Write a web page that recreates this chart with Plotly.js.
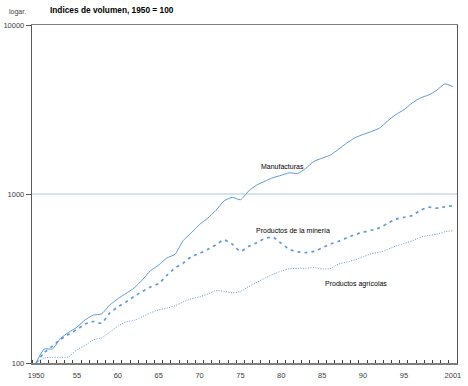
<!DOCTYPE html>
<html>
<head>
<meta charset="utf-8">
<script src="https://cdn.plot.ly/plotly-3.0.1.min.js"></script>
<style>html,body{margin:0;padding:0;background:#fff;}#chart{width:468px;height:386px;}</style>
</head>
<body>
<div id="chart"></div>
<script>
const years = [];
for (let y = 1950; y <= 2001; y++) years.push(y);

const manufacturas = [100,121,121,140,152,163,180,192,195,220,240,258,278,310,352,380,418,440,530,590,660,720,800,910,955,925,1040,1130,1190,1250,1290,1335,1320,1420,1560,1630,1700,1840,2000,2150,2250,2340,2450,2700,2950,3150,3450,3700,3850,4100,4480,4320];
const mineria = [100,115,126,138,148,158,170,176,172,197,215,230,248,265,282,295,330,365,390,425,445,470,500,535,505,458,490,515,545,555,510,470,455,450,458,480,505,525,550,575,595,610,630,670,710,728,745,800,835,825,840,852];
const agricolas = [100,107,108,108,109,120,127,137,141,152,165,175,179,188,198,206,211,218,230,240,246,256,268,266,260,265,283,300,318,335,350,361,363,363,368,360,362,385,395,408,425,443,452,470,492,510,528,555,568,578,598,607];

const tickYears = [1950,1955,1960,1965,1970,1975,1980,1985,1990,1995,2001];
const tickLabels = ['1950','55','60','65','70','75','80','85','90','95','2001'];
const yTicks = [100,1000,10000];
const yTickLabels = ['100','1000','10000'];

const seriesNames = ['Manufacturas','Productos de la minería','Productos agrícolas'];

const lineColor = '#5B9BD5';
const traces = [
  {x: years, y: manufacturas, name: seriesNames[0], mode: 'lines',
   line: {color: lineColor, width: 1, shape: 'spline', smoothing: 0.6}},
  {x: years, y: mineria, name: seriesNames[1], mode: 'lines',
   line: {color: '#5f9cd6', width: 1.7, dash: '3px,4px', shape: 'spline', smoothing: 0.6}},
  {x: years, y: agricolas, name: seriesNames[2], mode: 'lines',
   line: {color: '#5f9cd6', width: 1, dash: '1px,1.5px', shape: 'spline', smoothing: 0.6}}
];

const fnt = '"Liberation Sans", Arial, sans-serif';
const layout = {
  width: 468, height: 386,
  margin: {l: 32, r: 11, t: 25, b: 23, pad: 0},
  paper_bgcolor: '#fff', plot_bgcolor: '#fff',
  showlegend: false,
  font: {family: fnt, size: 7.5, color: '#404040'},
  xaxis: {
    type: 'linear', range: [1949.5, 2001.5],
    tickvals: tickYears, ticktext: tickLabels, ticks: '',
    ticklabelstandoff: 4,
    showgrid: false, zeroline: false,
    showline: true, linecolor: '#7f7f7f', linewidth: 1.5, mirror: true,
    minor: {ticks: 'inside', tick0: 1949.5, dtick: 1, ticklen: 3, tickcolor: '#404040', showgrid: false},
    tickfont: {family: fnt, size: 7.5, color: '#404040'}
  },
  yaxis: {
    type: 'log', range: [2, 4],
    tickvals: yTicks, ticktext: yTickLabels,
    ticks: 'outside', ticklen: 5, tickcolor: '#595959',
    showgrid: true, gridcolor: '#d6e2f0', gridwidth: 1.2, zeroline: false,
    showline: true, linecolor: '#595959', linewidth: 1.2, mirror: true,
    tickfont: {family: fnt, size: 7.5, color: '#404040'}
  },
  annotations: [
    {xref: 'paper', yref: 'paper', x: 0.037, y: 1.045, xanchor: 'left', yanchor: 'middle',
     text: '<b>Indices de volumen, 1950 = 100</b>', showarrow: false,
     font: {family: fnt, size: 8.3, color: '#000'}},
    {xref: 'paper', yref: 'paper', x: -0.058, y: 1.038, xanchor: 'left', yanchor: 'middle',
     text: 'logar.', showarrow: false, font: {family: fnt, size: 7, color: '#404040'}},
    {xref: 'x', yref: 'y', x: 1980.2, y: Math.log10(1450), text: seriesNames[0], showarrow: false,
     font: {family: fnt, size: 7, color: '#000'}},
    {xref: 'x', yref: 'y', x: 1981.4, y: Math.log10(607), text: seriesNames[1], showarrow: false,
     font: {family: fnt, size: 7, color: '#000'}},
    {xref: 'x', yref: 'y', x: 1989.2, y: Math.log10(293), text: seriesNames[2], showarrow: false,
     font: {family: fnt, size: 7, color: '#000'}}
  ]
};

Plotly.newPlot('chart', traces, layout, {staticPlot: true, displayModeBar: false});
</script>
</body>
</html>
